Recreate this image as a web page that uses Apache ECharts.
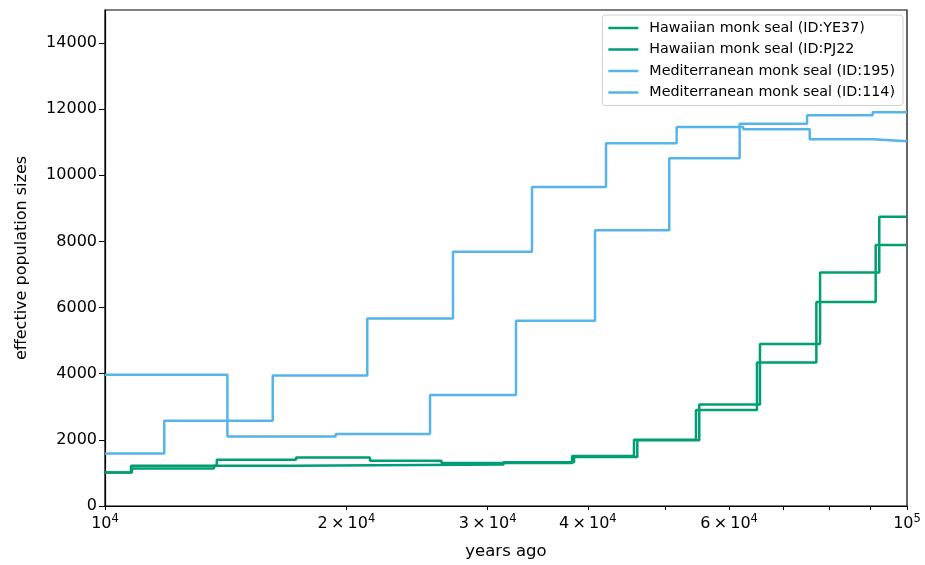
<!DOCTYPE html>
<html>
<head>
<meta charset="utf-8">
<script src="https://cdn.jsdelivr.net/npm/echarts@6/dist/echarts.min.js"></script>
<style>
html,body{margin:0;padding:0;background:#fff;}
#chart{width:925px;height:565px;}
</style>
</head>
<body>
<div id="chart"></div>
<script>
// ---- data ----
const seriesNames = [
  'Hawaiian monk seal (ID:YE37)',
  'Hawaiian monk seal (ID:PJ22',
  'Mediterranean monk seal (ID:195)',
  'Mediterranean monk seal (ID:114)'
];
const yearsYE37 = [10000, 10775, 13785, 17306, 21399, 26278, 38230, 45667, 54561, 65004, 77088, 91400, 100000];
const neYE37    = [1010, 1215, 1400, 1467, 1365, 1300, 1510, 2000, 2900, 4340, 6170, 7890, 7890];
const yearsPJ22 = [10000, 10806, 13677, 17157, 31398, 38451, 46102, 55080, 65566, 77911, 92350, 100000];
const nePJ22    = [1010, 1135, 1215, 1255, 1320, 1480, 1990, 3070, 4900, 7060, 8750, 8750];
const years195  = [10000, 14211, 19393, 25425, 32544, 40830, 50532, 61853, 75055, 90617, 100000];
const ne195     = [3970, 2100, 2180, 3360, 5600, 8340, 10520, 11560, 11820, 11910, 11910];
const years114  = [10000, 11855, 16186, 21234, 27159, 34075, 42141, 51617, 62496, 75639, 90720, 100000];
const ne114     = [1590, 2580, 3950, 5670, 7690, 9650, 10970, 11460, 11390, 11090, 11030, 11030];

const xTickValues  = [10000, 20000, 30000, 40000, 50000, 60000, 70000, 80000, 90000, 100000];
const xLabelValues = [10000, 20000, 30000, 40000, 60000, 100000];
const xLabelMant   = {10000: '', 20000: '2', 30000: '3', 40000: '4', 60000: '6', 100000: ''};
const yTickValues  = [0, 2000, 4000, 6000, 8000, 10000, 12000, 14000];

const GREEN = '#029E73';
const BLUE = '#56B4E9';
const FONT = 'DejaVu Sans';

function pairs(xs, ys) { return xs.map((x, i) => [x, ys[i]]); }

function xFormatter(v) {
  const r = Math.round(v);
  const e = Math.round(Math.log10(r));
  if (r === Math.pow(10, e)) return '{b|10}{s|' + e + '}';
  const m = xLabelMant[r];
  const ex = Math.floor(Math.log10(r));
  return '{b|' + m + '\u2009\u00d7\u200910}{s|' + ex + '}';
}

const chart = echarts.init(document.getElementById('chart'), null, {renderer: 'canvas'});
const mk = (name, xs, ys, color) => ({
  name: name, type: 'line', step: 'end', symbol: 'none', showSymbol: false,
  data: pairs(xs, ys), lineStyle: {color: color, width: 2.5}, itemStyle: {color: color},
  animation: false, clip: true
});

chart.setOption({
  animation: false,
  backgroundColor: '#fff',
  textStyle: {fontFamily: FONT},
  grid: {left: 105, right: 18, top: 10, bottom: 57, show: true, borderColor: '#000', borderWidth: 1.2, containLabel: false},
  legend: {
    show: true, orient: 'vertical', right: 22, top: 15,
    data: seriesNames,
    icon: 'rect', itemWidth: 30, itemHeight: 2.5, itemGap: 7.5,
    padding: [6, 8, 6, 6],
    backgroundColor: '#fff', borderColor: '#d0d0d0', borderWidth: 1, borderRadius: 3,
    textStyle: {fontFamily: FONT, fontSize: 14.3, color: '#000', padding: [0, 0, 0, 6]}
  },
  xAxis: {
    type: 'log', logBase: 10, min: 10000, max: 100000,
    name: 'years ago', nameLocation: 'middle', nameGap: 37,
    nameTextStyle: {fontFamily: FONT, fontSize: 16.5, color: '#000'},
    axisLine: {show: true, lineStyle: {color: '#000', width: 1.2}},
    axisTick: {show: true, inside: false, length: 4, customValues: xTickValues, lineStyle: {color: '#000', width: 1}},
    splitLine: {show: false},
    minorTick: {show: false},
    axisLabel: {
      show: true, margin: 7, customValues: xLabelValues, formatter: xFormatter,
      color: '#000',
      rich: {
        b: {fontFamily: FONT, fontSize: 16, color: '#000'},
        s: {fontFamily: FONT, fontSize: 11.5, color: '#000', verticalAlign: 'top', padding: [0, 0, 9, 0]}
      }
    }
  },
  yAxis: {
    type: 'value', min: 0, max: 15000, interval: 1000,
    name: 'effective population sizes', nameLocation: 'middle', nameGap: 75,
    nameTextStyle: {fontFamily: FONT, fontSize: 16, color: '#000'},
    axisLine: {show: true, lineStyle: {color: '#000', width: 1.2}},
    axisTick: {show: true, length: 6, customValues: yTickValues, lineStyle: {color: '#000', width: 1}},
    splitLine: {show: false},
    axisLabel: {show: true, customValues: yTickValues, margin: 8, fontFamily: FONT, fontSize: 16, color: '#000',
      formatter: v => String(Math.round(v))}
  },
  series: [
    mk(seriesNames[0], yearsYE37, neYE37, GREEN),
    mk(seriesNames[1], yearsPJ22, nePJ22, GREEN),
    mk(seriesNames[2], years195, ne195, BLUE),
    mk(seriesNames[3], years114, ne114, BLUE)
  ]
});
</script>
</body>
</html>
